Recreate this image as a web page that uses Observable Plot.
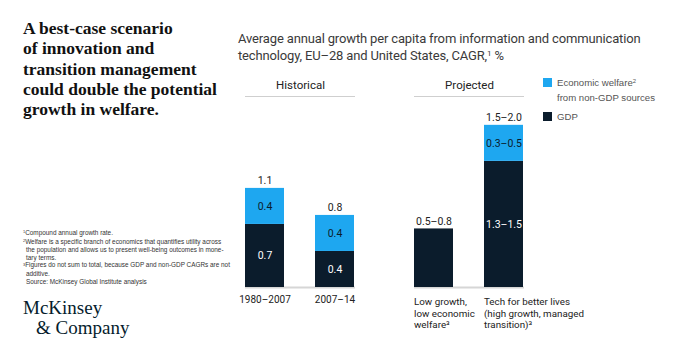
<!DOCTYPE html>
<html>
<head>
<meta charset="utf-8">
<script src="https://cdn.jsdelivr.net/npm/d3@7"></script>
<script src="https://cdn.jsdelivr.net/npm/@observablehq/plot@0.6"></script>
<style>
  html, body { margin: 0; padding: 0; background: #fff; }
  #wrap { position: relative; width: 680px; height: 355px; overflow: hidden; font-family: "Liberation Sans", Arial, sans-serif; }
  #chart { position: absolute; left: 0; top: 0; }
  .abs { position: absolute; white-space: nowrap; }
  #headline { left: 23px; top: 18px; font-family: "Liberation Serif", serif; font-weight: bold; font-size: 17.5px; line-height: 20.3px; color: #111; }
  #ctitle { left: 238px; top: 30px; font-family: Roboto, "Liberation Sans", sans-serif; font-size: 13px; letter-spacing: -0.15px; line-height: 17px; color: #3a3a3a; }
  .sup { position: relative; top: -0.45em; font-size: 62%; }
  #notes { left: 23px; top: 229px; font-size: 6.4px; line-height: 7.6px; color: #333; }
  #notes div.ind { padding-left: 3px; }
  #logo { left: 23px; top: 298px; font-family: "Liberation Serif", serif; font-size: 19px; line-height: 20px; color: #051c2c; }
  .sw { position: absolute; width: 9px; height: 9px; }
  .legtxt { position: absolute; font-size: 9.6px; line-height: 13px; color: #555; white-space: nowrap; }
  g[aria-label="fx-axis tick label"] text, g[aria-label="fx-axis"] text { font-size: 11.5px; fill: #222; }
</style>
</head>
<body>
<div id="wrap">
  <div id="chart"></div>
  <div id="headline" class="abs">A best-case scenario<br>of innovation and<br>transition management<br>could double the potential<br>growth in welfare.</div>
  <div id="ctitle" class="abs">Average annual growth per capita from information and communication<br>technology, EU–28 and United States, CAGR,<span class="sup">1</span> %</div>
  <div class="sw" style="left:543px; top:78px; background:#1ea7f0"></div>
  <div class="legtxt" style="left:557px; top:76px">Economic welfare<span class="sup">2</span><br>from non-GDP sources</div>
  <div class="sw" style="left:543px; top:112px; background:#0b1c2c"></div>
  <div class="legtxt" style="left:557px; top:110px">GDP</div>
  <div id="notes" class="abs">
    <div><span class="sup">1</span>Compound annual growth rate.</div>
    <div><span class="sup">2</span>Welfare is a specific branch of economics that quantifies utility across</div>
    <div class="ind">the population and allows us to present well-being outcomes in mone-</div>
    <div class="ind">tary terms.</div>
    <div><span class="sup">3</span>Figures do not sum to total, because GDP and non-GDP CAGRs are not</div>
    <div class="ind">additive.</div>
    <div class="ind">Source: McKinsey Global Institute analysis</div>
  </div>
  <div id="logo" class="abs">McKinsey<br><span style="padding-left:13px">&amp; Company</span></div>
</div>
<script>
// ---- data ----
const categories = ["1980–2007", "2007–14", "Low growth", "Tech for better lives"];
const groups = ["Historical", "Historical", "Projected", "Projected"];
const gdp = [0.7, 0.4, 0.65, 1.4];
const welfare = [0.4, 0.4, 0, 0.4];
const gdpLabels = ["0.7", "0.4", "", "1.3–1.5"];
const welfareLabels = ["0.4", "0.4", "", "0.3–0.5"];
const totalLabels = ["1.1", "0.8", "0.5–0.8", "1.5–2.0"];
const tickLabels = ["1980–2007", "2007–14", "Low growth,\nlow economic\nwelfare³", "Tech for better lives\n(high growth, managed\ntransition)³"];
const seriesNames = ["GDP", "Economic welfare"];
const groupNames = ["Historical", "Projected"];

const dark = "#0b1c2c", blue = "#1ea7f0";

// slot of each category within its group (0 = first bar, 1 = second bar)
const slot = categories.map((c, i) => categories.filter((_, j) => groups[j] === groups[i]).indexOf(c));

const rows = [];
categories.forEach((c, i) => {
  rows.push({cat: c, slot: slot[i], group: groups[i], series: seriesNames[0], y1: 0, y2: gdp[i], label: gdpLabels[i]});
  rows.push({cat: c, slot: slot[i], group: groups[i], series: seriesNames[1], y1: gdp[i], y2: gdp[i] + welfare[i], label: welfareLabels[i]});
});
const totals = categories.map((c, i) => ({cat: c, slot: slot[i], group: groups[i], total: gdp[i] + welfare[i], label: totalLabels[i], tick: tickLabels[i]}));

const chart = Plot.plot({
  width: 680,
  height: 355,
  marginLeft: 244,
  marginRight: 155,
  marginTop: 96,
  marginBottom: 68,
  style: {fontFamily: "Roboto, 'Liberation Sans', Arial, sans-serif", fontSize: "11px", background: "transparent", color: "#222"},
  fx: {domain: groupNames, paddingInner: 0.347, paddingOuter: 0, axis: "top", tickSize: 0, tickPadding: 8, label: null},
  x: {type: "band", domain: [0, 1], paddingInner: 0.437, paddingOuter: 0, axis: null},
  y: {domain: [0, 2.12], axis: null},
  color: {domain: seriesNames, range: [dark, blue]},
  marks: [
    Plot.ruleY([2.12], {stroke: "#cfcfcf", strokeWidth: 1}),
    Plot.ruleY([0], {stroke: "#d6d6d6", strokeWidth: 2}),
    Plot.barY(rows.filter(d => d.y2 > d.y1), {x: "slot", fx: "group", y1: "y1", y2: "y2", fill: "series"}),
    Plot.text(rows.filter(d => d.label && d.series === "GDP"), {x: "slot", fx: "group", y: d => (d.y1 + d.y2) / 2, text: "label", fill: "white", fontSize: 10.5}),
    Plot.text(rows.filter(d => d.label && d.series !== "GDP"), {x: "slot", fx: "group", y: d => (d.y1 + d.y2) / 2, text: "label", fill: dark, fontSize: 10.5}),
    Plot.text(totals, {x: "slot", fx: "group", y: "total", text: "label", lineAnchor: "bottom", dy: -4, fill: "#222", fontSize: 10.5}),
    Plot.text(totals.filter(d => d.group === "Historical"), {x: "slot", fx: "group", y: 0, text: "tick", lineAnchor: "top", dy: 8, fill: "#222", fontSize: 10}),
    Plot.text(totals.filter(d => d.group === "Projected"), {x: "slot", fx: "group", y: 0, text: "tick", lineAnchor: "top", textAnchor: "start", dx: -20, dy: 9, lineHeight: 1.2, fill: "#222", fontSize: 9.8})
  ]
});
document.getElementById("chart").appendChild(chart);
</script>
</body>
</html>
